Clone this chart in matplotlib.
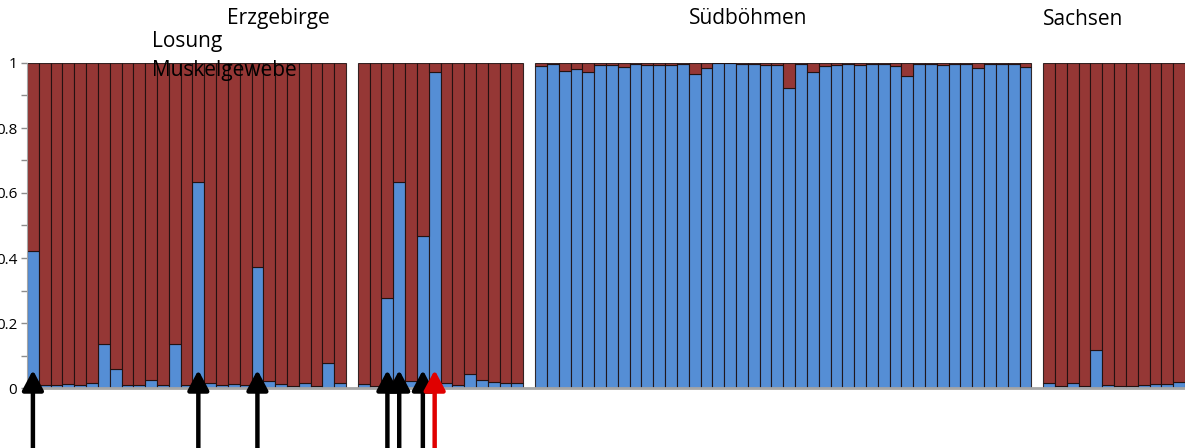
import matplotlib
matplotlib.use("Agg")
import matplotlib.pyplot as plt
import numpy as np
from matplotlib.ticker import MultipleLocator, FormatStrFormatter

plt.rcParams["font.family"] = ["Open Sans", "DejaVu Sans"]

# blue (cluster 1) share per individual, red is the rest up to 1
erzgebirge_a = [0.421, 0.008, 0.008, 0.012, 0.008, 0.015, 0.136, 0.057, 0.008,
                0.008, 0.025, 0.008, 0.136, 0.008, 0.635, 0.014, 0.008, 0.012,
                0.008, 0.373, 0.023, 0.011, 0.006, 0.014, 0.006, 0.076, 0.016]
erzgebirge_b = [0.012, 0.006, 0.277, 0.635, 0.022, 0.468, 0.973, 0.015, 0.010,
                0.044, 0.024, 0.020, 0.016, 0.016]
suedboehmen = [0.991, 0.997, 0.974, 0.980, 0.971, 0.995, 0.994, 0.987, 0.996,
               0.995, 0.995, 0.995, 0.998, 0.967, 0.986, 0.999, 0.999, 0.998,
               0.997, 0.993, 0.993, 0.923, 0.997, 0.973, 0.990, 0.994, 0.998,
               0.995, 0.997, 0.997, 0.991, 0.961, 0.998, 0.997, 0.995, 0.997,
               0.997, 0.986, 0.996, 0.998, 0.998, 0.987]
sachsen = [0.015, 0.007, 0.014, 0.007, 0.116, 0.009, 0.007, 0.006, 0.009,
           0.012, 0.012, 0.017]

groups = [erzgebirge_a, erzgebirge_b, suedboehmen, sachsen]

# sample positions marked with arrows (index in the plotted sequence)
arrows_black = [0, 14, 19, 30, 31, 33]
arrows_red = [34]

BLUE = "#558ed5"
RED = "#953735"
EDGE = (0.1, 0.05, 0.05, 0.85)

# build one sequence with an empty slot between groups
blue = []
for i, g in enumerate(groups):
    if i:
        blue.append(np.nan)
    blue.extend(g)
blue = np.array(blue)
x = np.arange(len(blue))
red = 1 - blue

W, H = 1185, 448
fig = plt.figure(figsize=(W / 100, H / 100), dpi=100)
ax = fig.add_axes([27 / W, 1 - 388 / H, (W - 27) / W, 325 / H])

ax.bar(x, blue, width=1, color=BLUE, edgecolor=EDGE, linewidth=0.8)
ax.bar(x, red, width=1, bottom=blue, color=RED, edgecolor=EDGE, linewidth=0.8)

ax.set_xlim(-0.5, len(blue) - 0.5)
ax.set_ylim(0, 1)
ax.set_xticks([])
ax.yaxis.set_major_locator(MultipleLocator(0.2))
ax.yaxis.set_minor_locator(MultipleLocator(0.1))
ax.yaxis.set_major_formatter(FormatStrFormatter("%g"))
ax.tick_params(axis="y", which="both", length=4, width=1, color="#8c8c8c",
               labelsize=11, pad=3)
for s in ["top", "right"]:
    ax.spines[s].set_visible(False)
ax.spines["left"].set_color("#a6a6a6")
ax.spines["bottom"].set_color("#a6a6a6")
ax.spines["bottom"].set_linewidth(2)

for xs, col in [(arrows_black, "black"), (arrows_red, "#e00000")]:
    for xi in xs:
        ax.annotate("", xy=(xi, 0.055), xytext=(xi, -0.2),
                    xycoords=("data", "axes fraction"),
                    textcoords=("data", "axes fraction"),
                    annotation_clip=False,
                    arrowprops=dict(arrowstyle="-|>,head_length=0.6,head_width=0.32",
                                    mutation_scale=20, lw=3.2, color=col,
                                    shrinkA=0, shrinkB=0))

fs = 15
fig.text(227 / W, 1 - 24 / H, "Erzgebirge", fontsize=fs, va="baseline", ha="left")
fig.text(807 / W, 1 - 24 / H, "Südböhmen", fontsize=fs, va="baseline", ha="right")
fig.text(1043 / W, 1 - 25 / H, "Sachsen", fontsize=fs, va="baseline", ha="left")
fig.text(152 / W, 1 - 47 / H, "Losung", fontsize=fs, va="baseline", ha="left")
fig.text(152 / W, 1 - 76 / H, "Muskelgewebe", fontsize=fs, va="baseline", ha="left")

fig.savefig("out.png", dpi=100)
